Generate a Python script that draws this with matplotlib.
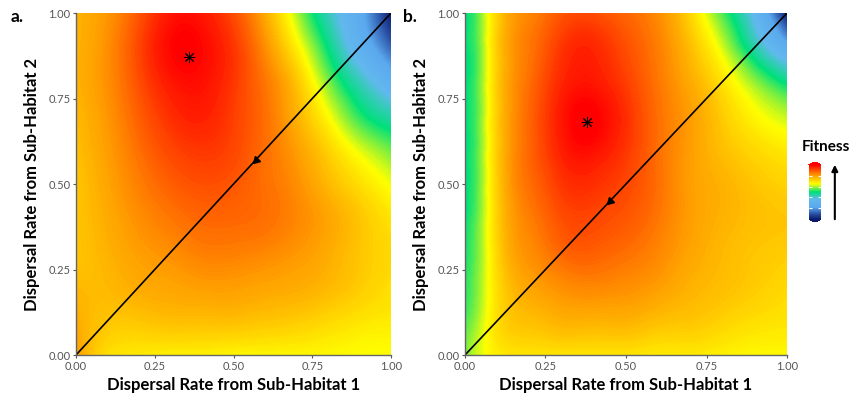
import numpy as np
import matplotlib
matplotlib.use('Agg')
import matplotlib.pyplot as plt
import matplotlib.tri as mtri
from matplotlib.colors import LinearSegmentedColormap

plt.rcParams['font.family'] = ['Lato', 'DejaVu Sans']

# fitness on a coarse grid (rows = sub-habitat 2 rate, bottom to top)
rates_y = [0.0, 0.1, 0.2, 0.3, 0.4, 0.5, 0.6, 0.7, 0.8, 0.9, 1.0]

rates_x_a = [0.0, 0.1, 0.2, 0.3, 0.4, 0.5, 0.6, 0.7, 0.8, 0.9, 1.0]
fitness_a = [
    [0.80, 0.70, 0.68, 0.67, 0.67, 0.66, 0.66, 0.66, 0.66, 0.65, 0.65],
    [0.78, 0.74, 0.74, 0.75, 0.75, 0.75, 0.74, 0.73, 0.71, 0.69, 0.68],
    [0.76, 0.76, 0.78, 0.79, 0.80, 0.80, 0.79, 0.78, 0.76, 0.73, 0.70],
    [0.74, 0.77, 0.80, 0.82, 0.84, 0.84, 0.83, 0.81, 0.78, 0.74, 0.71],
    [0.74, 0.78, 0.82, 0.85, 0.87, 0.87, 0.86, 0.83, 0.79, 0.74, 0.69],
    [0.74, 0.79, 0.84, 0.88, 0.90, 0.89, 0.86, 0.82, 0.76, 0.70, 0.64],
    [0.75, 0.80, 0.86, 0.91, 0.93, 0.91, 0.86, 0.80, 0.72, 0.63, 0.56],
    [0.76, 0.81, 0.88, 0.94, 0.96, 0.92, 0.86, 0.77, 0.65, 0.52, 0.44],
    [0.77, 0.82, 0.90, 0.97, 0.98, 0.93, 0.85, 0.74, 0.57, 0.42, 0.28],
    [0.77, 0.82, 0.91, 0.99, 0.99, 0.93, 0.82, 0.67, 0.49, 0.30, 0.12],
    [0.77, 0.81, 0.89, 0.97, 0.97, 0.90, 0.78, 0.60, 0.42, 0.25, 0.00],
]

rates_x_b = [0.0, 0.03, 0.07, 0.12, 0.2, 0.3, 0.4, 0.5, 0.6, 0.7, 0.8, 0.9, 1.0]
fitness_b = [
    [0.57, 0.61, 0.65, 0.68, 0.69, 0.69, 0.69, 0.69, 0.68, 0.68, 0.67, 0.66, 0.66],
    [0.54, 0.58, 0.65, 0.72, 0.75, 0.77, 0.77, 0.77, 0.75, 0.74, 0.72, 0.70, 0.69],
    [0.52, 0.56, 0.64, 0.73, 0.79, 0.82, 0.83, 0.82, 0.80, 0.77, 0.75, 0.73, 0.71],
    [0.51, 0.55, 0.64, 0.75, 0.82, 0.87, 0.88, 0.86, 0.83, 0.79, 0.76, 0.74, 0.73],
    [0.50, 0.54, 0.64, 0.76, 0.84, 0.90, 0.91, 0.89, 0.85, 0.80, 0.77, 0.75, 0.74],
    [0.50, 0.53, 0.64, 0.77, 0.86, 0.93, 0.94, 0.91, 0.86, 0.80, 0.77, 0.74, 0.72],
    [0.50, 0.53, 0.64, 0.77, 0.87, 0.96, 0.98, 0.93, 0.86, 0.80, 0.75, 0.71, 0.68],
    [0.50, 0.53, 0.64, 0.77, 0.87, 0.97, 1.00, 0.94, 0.86, 0.80, 0.73, 0.66, 0.61],
    [0.50, 0.53, 0.64, 0.77, 0.86, 0.95, 0.97, 0.92, 0.85, 0.78, 0.69, 0.58, 0.48],
    [0.50, 0.53, 0.64, 0.77, 0.85, 0.93, 0.95, 0.90, 0.84, 0.75, 0.62, 0.44, 0.25],
    [0.50, 0.53, 0.64, 0.76, 0.83, 0.89, 0.90, 0.87, 0.82, 0.71, 0.54, 0.34, 0.00],
]

# optimum (asterisk) and evolutionarily stable point on the diagonal (triangle)
optimum_a = (0.36, 0.87)
optimum_b = (0.38, 0.68)
ess_a = 0.57
ess_b = 0.45

tick_vals = [0.0, 0.25, 0.5, 0.75, 1.0]
tick_labels = ['0.00', '0.25', '0.50', '0.75', '1.00']

cmap = LinearSegmentedColormap.from_list('fitness', [
    (0.0, '#0b1a6b'), (0.1, '#2a52a6'), (0.22, '#5aa8ee'), (0.36, '#62b8ee'),
    (0.5, '#00e07a'), (0.65, '#ffff00'), (0.8, '#ffa000'), (0.88, '#ff6000'),
    (0.95, '#ff2800'), (1.0, '#ff0000')])


def smooth_field(xs, ys, z):
    xx, yy = np.meshgrid(xs, ys)
    tri = mtri.Triangulation(xx.ravel(), yy.ravel())
    refiner = mtri.UniformTriRefiner(tri)
    return refiner.refine_field(np.array(z).ravel(), subdiv=4)


fig = plt.figure(figsize=(8.51, 3.96), dpi=100)
ax_a = fig.add_axes([0.0893, 0.1035, 0.3702, 0.8636])
ax_b = fig.add_axes([0.5464, 0.1035, 0.3784, 0.8636])

levels = np.linspace(0, 1, 201)
for ax, xs, z, opt, ess in [(ax_a, rates_x_a, fitness_a, optimum_a, ess_a),
                            (ax_b, rates_x_b, fitness_b, optimum_b, ess_b)]:
    tri_fine, z_fine = smooth_field(xs, rates_y, z)
    cs = ax.tricontourf(tri_fine, z_fine, levels=levels, cmap=cmap,
                        extend='both', antialiased=False)
    ax.plot([0, 1], [0, 1], color='black', lw=1.2)
    ax.plot([ess], [ess], marker=(3, 0, 135), color='black', ms=6)
    ax.plot([opt[0]], [opt[1]], marker=(8, 2, 0), color='black', ms=8, mew=0.7)
    ax.set_xlim(0, 1)
    ax.set_ylim(0, 1)
    ax.set_xticks(tick_vals)
    ax.set_xticklabels(tick_labels)
    ax.set_yticks(tick_vals)
    ax.set_yticklabels(tick_labels)
    ax.tick_params(length=2, labelsize=8, colors='#555555', pad=2)
    for side in ['top', 'right']:
        ax.spines[side].set_visible(False)
    for side in ['left', 'bottom']:
        ax.spines[side].set_color('#666666')
        ax.spines[side].set_linewidth(1.0)
    ax.set_xlabel('Dispersal Rate from Sub-Habitat 1', fontsize=12,
                  fontweight='bold', labelpad=4)
    ax.set_ylabel('Dispersal Rate from Sub-Habitat 2', fontsize=12,
                  fontweight='bold', labelpad=6)

fig.text(0.012, 0.945, 'a.', fontsize=12.5, fontweight='bold')
fig.text(0.473, 0.945, 'b.', fontsize=12.5, fontweight='bold')

# fitness legend
cax = fig.add_axes([0.9506, 0.4394, 0.0141, 0.1515])
cb = fig.colorbar(cs, cax=cax, ticks=[0.2, 0.4, 0.6, 0.8], extend='neither')
cb.outline.set_visible(False)
cax.set_ylim(0, 1)
cax.tick_params(length=2, colors='white', direction='in', labelright=False,
                left=True, right=True)
fig.text(0.971, 0.628, 'Fitness', ha='center', va='center', fontsize=11,
         fontweight='bold')
fig.add_artist(matplotlib.patches.FancyArrowPatch(
    (0.981, 0.4394), (0.981, 0.5909), transform=fig.transFigure,
    arrowstyle='-|>', mutation_scale=9, color='black', lw=1.5))

fig.savefig('out.png', dpi=100)
